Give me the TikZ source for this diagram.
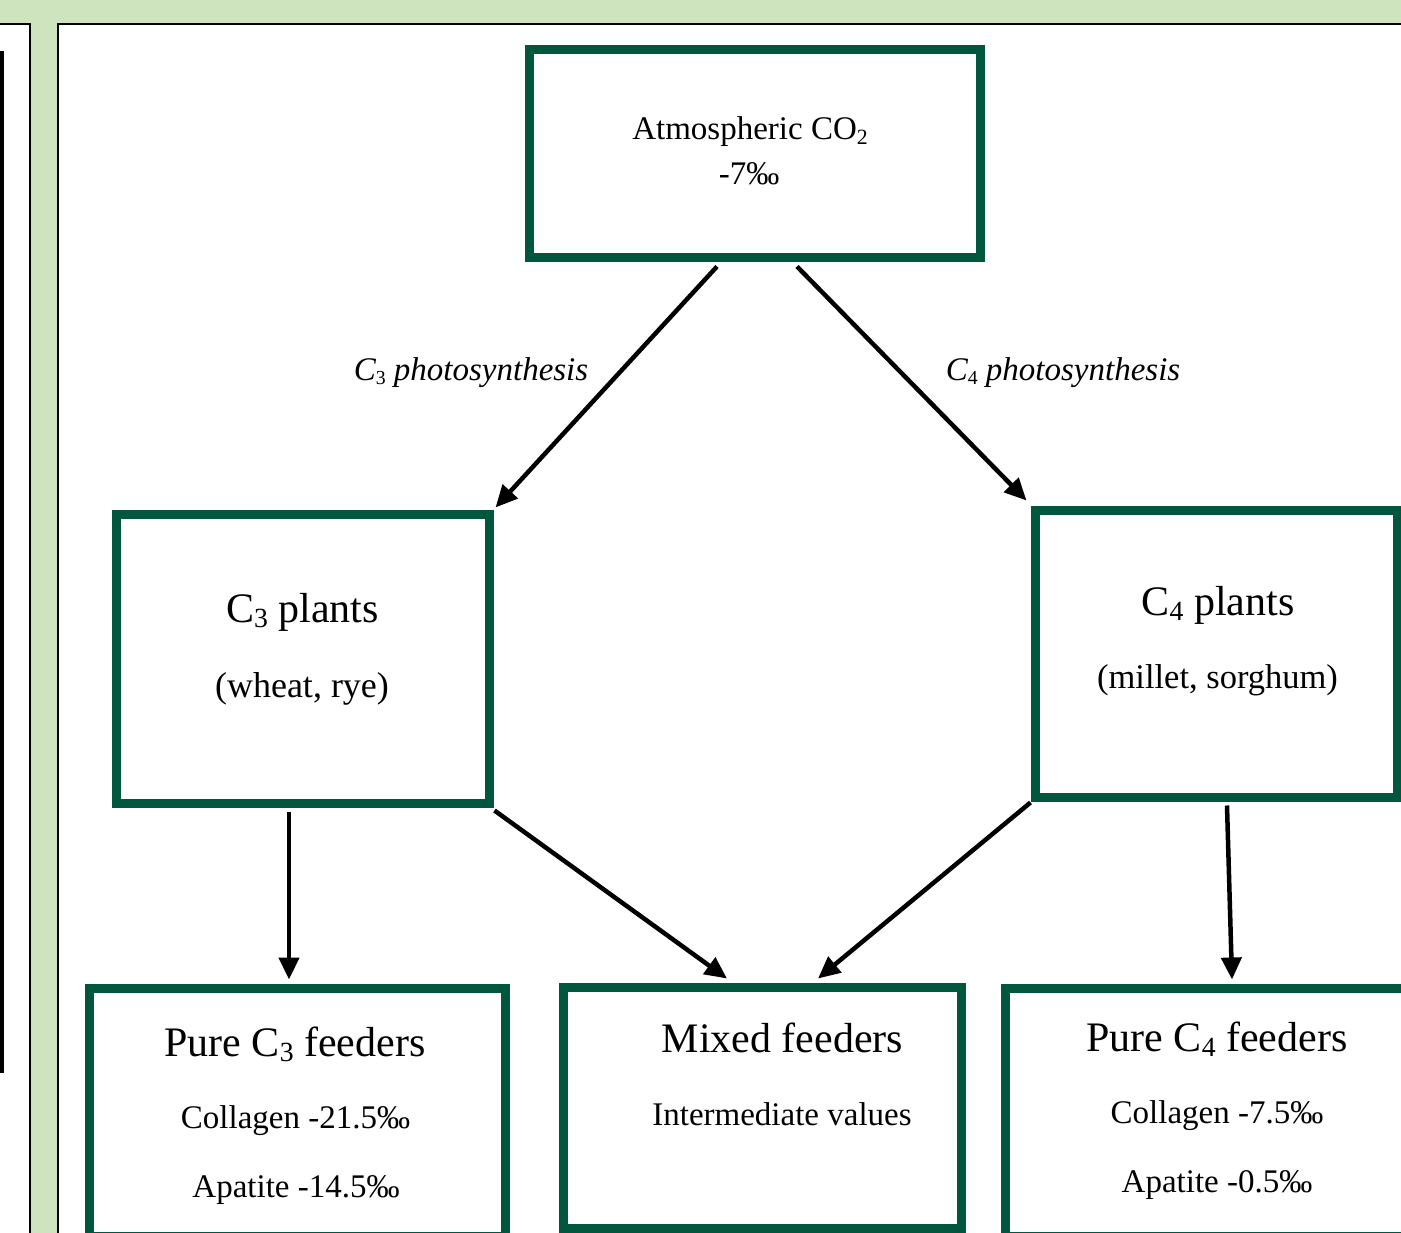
\documentclass[tikz,border=0pt]{standalone}
\usepackage{fontspec}
\setmainfont{Liberation Serif}
\usetikzlibrary{arrows.meta}
\definecolor{bggreen}{RGB}{205,228,191}
\definecolor{boxgreen}{RGB}{0,87,62}
\newcommand\lsub[1]{\raisebox{-0.13em}{\scalebox{0.66}{#1}}}
\newcommand\isub[1]{\raisebox{-0.12em}{\scalebox{0.6}{\upshape #1}}}
\tikzset{
  box/.style={draw=boxgreen, line width=9pt, fill=white, inner sep=0pt},
  txt/.style={inner sep=0pt, anchor=base},
  big/.style={txt, font=\fontsize{42}{48}\selectfont},
  mid/.style={txt, font=\fontsize{33}{40}\selectfont},
  lab/.style={txt, font=\fontsize{33}{38}\selectfont\itshape},
  arr/.style={line width=4.5pt, -{Triangle[length=22pt,width=20pt]}},
}
\begin{document}
\begin{tikzpicture}[x=1pt,y=-1pt]
\useasboundingbox (0,0) rectangle (1401,1233);
\clip (0,0) rectangle (1401,1233);
\fill[bggreen] (0,0) rectangle (1401,1233);
% panels
\draw[fill=white, line width=1.6pt] (-20,24) rectangle (30,1260);
\fill[black] (0,51) rectangle (4,1073);
\draw[fill=white, line width=1.6pt] (58,24) rectangle (1440,1260);
% boxes
\node[box, minimum width=451pt, minimum height=208pt] (atm) at (754.5,154) {};
\node[box, minimum width=373pt, minimum height=289pt] (c3) at (302.5,658.5) {};
\node[box, minimum width=362pt, minimum height=287pt] (c4) at (1216,653.5) {};
\node[box, minimum width=416pt, minimum height=248pt] (pc3) at (297,1112) {};
\node[box, minimum width=398pt, minimum height=241pt] (mix) at (762,1107.5) {};
\node[box, minimum width=405pt, minimum height=248pt] (pc4) at (1207.5,1112) {};
% texts
\node[mid] (t1) at (750,140) {Atmospheric CO\lsub{2}};
\node[mid] (t2) at (749,185) {-7‰};
\node[txt, font=\fontsize{42}{48}\selectfont] (t3) at (302.5,622) {C\lsub{3} plants};
\node[txt, font=\fontsize{36}{42}\selectfont] (t4) at (302,697) {(wheat, rye)};
\node[txt, font=\fontsize{42}{48}\selectfont] (t5) at (1218,615) {C\lsub{4} plants};
\node[txt, font=\fontsize{34.5}{40}\selectfont] (t6) at (1217.5,688) {(millet, sorghum)};
\node[big] (t7) at (295,1056) {Pure C\lsub{3} feeders};
\node[mid] (t8) at (295.5,1128) {Collagen -21.5‰};
\node[mid] (t9) at (296,1197) {Apatite -14.5‰};
\node[big] (t10) at (782.5,1052) {Mixed feeders};
\node[mid] (t11) at (782,1125) {Intermediate values};
\node[big] (t12) at (1217,1051) {Pure C\lsub{4} feeders};
\node[mid] (t13) at (1217,1123) {Collagen -7.5‰};
\node[mid] (t14) at (1217,1192) {Apatite -0.5‰};
\node[lab] (l1) at (471,381) {C\isub{3} photosynthesis};
\node[lab] (l2) at (1063,381) {C\isub{4} photosynthesis};
% arrows
\draw[arr] ([xshift=-37.5pt,yshift=-4pt]atm.south) -- ([xshift=2pt,yshift=2pt]c3.north east);
\draw[arr] ([xshift=42.5pt,yshift=-4pt]atm.south) -- ([xshift=-4pt,yshift=5pt]c4.north west);
\draw[arr] ([xshift=-13.5pt,yshift=-4pt]c3.south) -- ([xshift=-8pt,yshift=4pt]pc3.north);
\draw[arr] ([xshift=1pt,yshift=-3pt]c3.south east) -- ([xshift=-35pt,yshift=4pt]mix.north);
\draw[arr] ([xshift=0pt,yshift=-1pt]c4.south west) -- ([xshift=56pt,yshift=4pt]mix.north);
\draw[arr] ([xshift=11pt,yshift=-4pt]c4.south) -- ([xshift=24.5pt,yshift=4pt]pc4.north);
\end{tikzpicture}
\end{document}
